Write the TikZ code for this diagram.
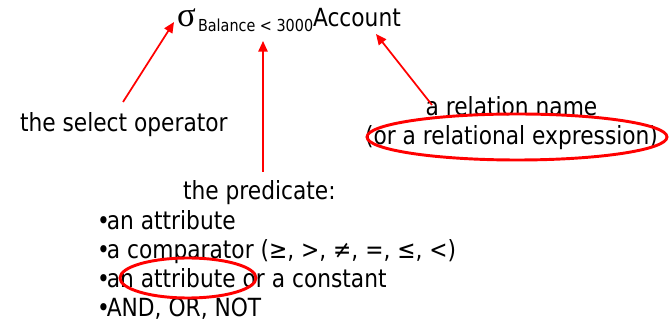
\documentclass[tikz,border=0pt]{standalone}
\usepackage{fontspec}
\setmainfont{DejaVu Sans}[FakeStretch=0.87]
\newfontfamily\sigmafont{Liberation Serif}
\usetikzlibrary{arrows.meta}
\begin{document}
\begin{tikzpicture}[x=0.75pt,y=-0.75pt,
  txt/.style={inner sep=0pt,outer sep=0pt,font=\fontsize{18.75}{22}\selectfont,text=black},
  subtxt/.style={inner sep=0pt,outer sep=0pt,font=\fontsize{12.4}{14}\selectfont,text=black},
  redarrow/.style={draw=red,line width=1.3pt,-{Triangle[length=8pt,width=7pt]}},
  redring/.style={draw=red,line width=2.2pt}]
\useasboundingbox (0,0) rectangle (671,323);
% top expression
\node[txt,anchor=base west,font=\sigmafont\fontsize{26}{28}\selectfont] (sigma) at (177,27) {σ};
\node[subtxt,anchor=base west] (cond) at (198,32) {Balance < 3000};
\node[txt,anchor=base west] (acct) at (313,27) {Account};
% labels
\node[txt,anchor=base west] (selop) at (20,132) {the select operator};
\node[txt,anchor=base] (relname) at (511.5,116) {a relation name};
\node[txt,anchor=base] (relexpr) at (511.5,145) {(or a relational expression)};
\node[txt,anchor=base west] (pred) at (183,200) {the predicate:};
\node[txt,anchor=base west] (b1) at (97,230) {•\kern-0.12em an attribute};
\node[txt,anchor=base west] (b2) at (97,259) {•\kern-0.12em a comparator (≥, >, ≠, =, ≤, <)};
\node[txt,anchor=base west] (b3) at (97,288) {•\kern-0.12em an attribute or a constant};
\node[txt,anchor=base west] (b4) at (97,317) {•\kern-0.12em AND, OR, NOT};
% arrow end points
\coordinate (selopTail) at (123,102);
\coordinate (sigmaTip) at (174,22);
\coordinate (predTail) at (263,172);
\coordinate (condTip) at (263,41);
\coordinate (relTail) at (432,105);
\coordinate (acctTip) at (376,34);
\draw[redarrow] (selopTail) -- (sigmaTip);
\draw[redarrow] (predTail) -- (condTip);
\draw[redarrow] (relTail) -- (acctTip);
% ellipses
\draw[redring] (517,137) ellipse [x radius=150, y radius=23];
\draw[redring] (188,278) ellipse [x radius=68, y radius=20];
\end{tikzpicture}
\end{document}
